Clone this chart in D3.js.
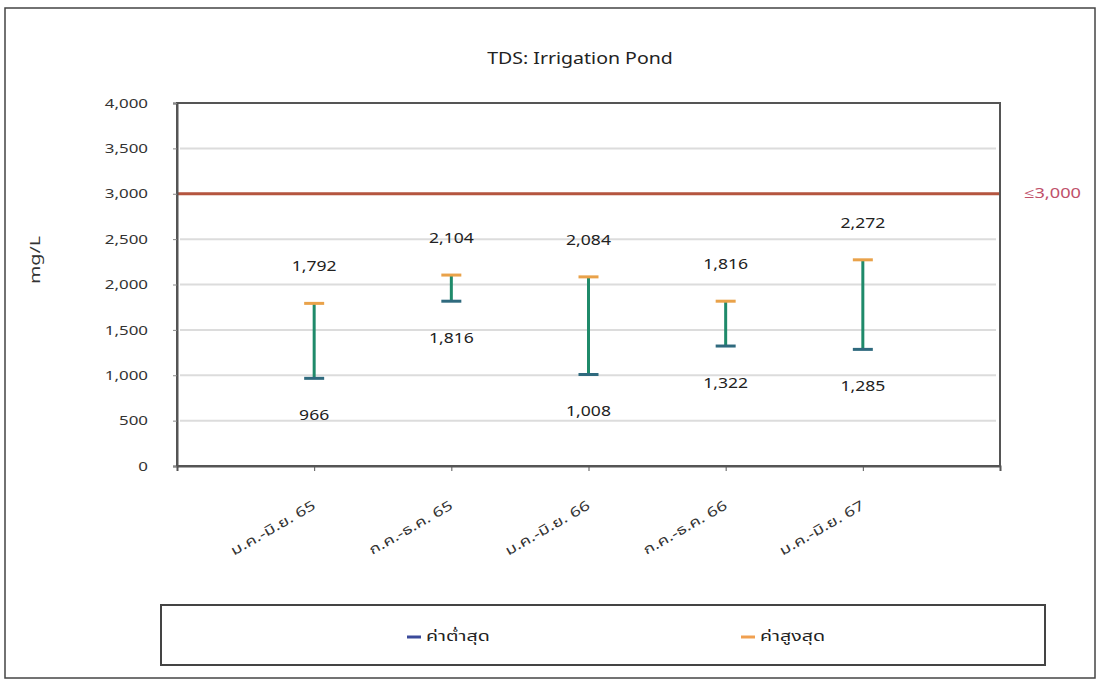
<!DOCTYPE html>
<html><head><meta charset="utf-8">
<script src="https://cdn.jsdelivr.net/npm/d3@7"></script>
<style>
body{margin:0;background:#fff;}
text{font-family:"Noto Sans Thai","Open Sans","Liberation Sans",sans-serif;}
</style></head>
<body><svg id="c" width="1097" height="682"></svg>
<script>
const categories = ["ม.ค.-มิ.ย. 65","ก.ค.-ธ.ค. 65","ม.ค.-มิ.ย. 66","ก.ค.-ธ.ค. 66","ม.ค.-มิ.ย. 67"];
const minValues = [966, 1816, 1008, 1322, 1285];
const maxValues = [1792, 2104, 2084, 1816, 2272];
const yTicks = [0,500,1000,1500,2000,2500,3000,3500,4000];
const threshold = 3000;
const thresholdLabel = "≤3,000";
const legendLabels = ["ค่าต่ำสุด","ค่าสูงสุด"];

const svg = d3.select("#c");
const L=177, R=1000, T=103, B=466;
const fmt = d3.format(",");

function stretch(sel, k){
  sel.each(function(){
    const w = this.getComputedTextLength();
    this.setAttribute("textLength", w*k);
    this.setAttribute("lengthAdjust","spacingAndGlyphs");
  });
}

svg.append("rect").attr("x",5).attr("y",8).attr("width",1090).attr("height",670)
  .attr("fill","#fff").attr("stroke","#444").attr("stroke-width",1.5);

const x = d3.scalePoint().domain(["_s",...categories,"_e"]).range([L,R]);
const y = d3.scaleLinear().domain([0,4000]).range([B,T]);

// gridlines
svg.append("g").selectAll("line").data(yTicks.filter(d=>d>0&&d<4000)).join("line")
  .attr("x1",L+3).attr("x2",R-4).attr("y1",d=>y(d)).attr("y2",d=>y(d))
  .attr("stroke","#dcdcdc").attr("stroke-width",2);

// threshold
svg.append("line").attr("x1",L).attr("x2",R).attr("y1",y(threshold)).attr("y2",y(threshold))
  .attr("stroke","#b5553f").attr("stroke-width",3);
const thr = svg.append("text").attr("x",1024).attr("y",y(threshold)).attr("dy","0.35em")
  .attr("font-size",13.5).attr("fill","#c0506a").text(thresholdLabel);
stretch(thr,1.35);

// plot frame
svg.append("rect").attr("x",L).attr("y",T).attr("width",R-L).attr("height",B-T)
  .attr("fill","none").attr("stroke","#555").attr("stroke-width",2);

// y axis
const ya = svg.append("g").attr("transform",`translate(${L},0)`)
  .call(d3.axisLeft(y).tickValues(yTicks).tickFormat(fmt).tickSize(4).tickPadding(25));
ya.select(".domain").attr("stroke","#555").attr("stroke-width",2);
ya.selectAll(".tick line").attr("stroke","#888");
ya.selectAll("text").attr("font-size",13).attr("fill","#333").attr("font-family","Liberation Sans, sans-serif");
stretch(ya.selectAll("text"),1.3);

// x axis
const xa = svg.append("g").attr("transform",`translate(0,${B})`)
  .call(d3.axisBottom(x).tickValues(categories).tickSize(5).tickPadding(4));
xa.select(".domain").attr("stroke","#555").attr("stroke-width",2);
xa.selectAll(".tick line").attr("stroke","#555");
xa.selectAll("text").attr("font-size",13.5).attr("fill","#333")
  .attr("text-anchor","end").attr("x",0).attr("y",0).attr("dy",0)
  .attr("transform","translate(2,42) rotate(-30)");
stretch(xa.selectAll("text"),1.35);

// y title
const yt = svg.append("text").attr("transform","translate(40,260) rotate(-90)")
  .attr("text-anchor","middle").attr("font-size",14).attr("fill","#333").text("mg/L");
stretch(yt,1.4);

// title
const tt = svg.append("text").attr("x",580).attr("y",64).attr("text-anchor","middle")
  .attr("font-size",16).attr("fill","#222").text("TDS: Irrigation Pond");
stretch(tt,1.22);

const data = categories.map((c,i)=>({c, mn:minValues[i], mx:maxValues[i]}));
const g = svg.append("g");
g.selectAll(".v").data(data).join("line")
  .attr("x1",d=>x(d.c)).attr("x2",d=>x(d.c)).attr("y1",d=>y(d.mn)).attr("y2",d=>y(d.mx))
  .attr("stroke","#1f8a6a").attr("stroke-width",3);
g.selectAll(".ct").data(data).join("line")
  .attr("x1",d=>x(d.c)-10).attr("x2",d=>x(d.c)+10).attr("y1",d=>y(d.mx)).attr("y2",d=>y(d.mx))
  .attr("stroke","#e9a24a").attr("stroke-width",3);
g.selectAll(".cb").data(data).join("line")
  .attr("x1",d=>x(d.c)-10).attr("x2",d=>x(d.c)+10).attr("y1",d=>y(d.mn)).attr("y2",d=>y(d.mn))
  .attr("stroke","#2f6a7e").attr("stroke-width",3);
const lt = g.selectAll(".lt").data(data).join("text")
  .attr("x",d=>x(d.c)).attr("y",d=>y(d.mx)-37).attr("dy","0.35em").attr("text-anchor","middle")
  .attr("font-size",13.5).attr("fill","#222").attr("font-family","Liberation Sans, sans-serif").text(d=>fmt(d.mx));
const lb = g.selectAll(".lb").data(data).join("text")
  .attr("x",d=>x(d.c)).attr("y",d=>y(d.mn)+37).attr("dy","0.35em").attr("text-anchor","middle")
  .attr("font-size",13.5).attr("fill","#222").attr("font-family","Liberation Sans, sans-serif").text(d=>fmt(d.mn));
stretch(lt,1.3); stretch(lb,1.3);

// legend
svg.append("rect").attr("x",161).attr("y",605).attr("width",884).attr("height",60)
  .attr("fill","#fff").attr("stroke","#444").attr("stroke-width",2);
const legColors = ["#3b4a9a","#f0a050"];
const legX = [407, 741];
legendLabels.forEach((t,i)=>{
  svg.append("line").attr("x1",legX[i]).attr("x2",legX[i]+14).attr("y1",637).attr("y2",637)
    .attr("stroke",legColors[i]).attr("stroke-width",3);
  const lt2 = svg.append("text").attr("x",legX[i]+19).attr("y",636).attr("dy","0.35em")
    .attr("font-size",14).attr("fill","#222").text(t);
  stretch(lt2,1.4);
});
</script></body></html>
